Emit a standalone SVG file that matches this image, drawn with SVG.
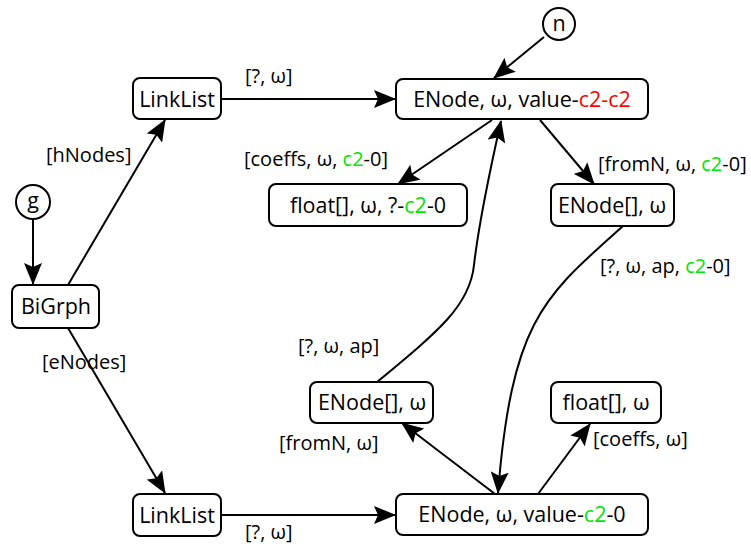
<svg xmlns="http://www.w3.org/2000/svg" width="751" height="549" viewBox="0 0 751 549">
  <style>
    .box { fill: #ffffff; stroke: #000000; stroke-width: 2; }
    .t { font-family: "Open Sans", "Noto Sans", "DejaVu Sans", sans-serif; font-size: 21.5px; fill: #000000; }
    .c { text-anchor: middle; }
    .lbl { font-family: "Open Sans", "Noto Sans", "DejaVu Sans", sans-serif; font-size: 20px; fill: #000000; }
    .edge { fill: none; stroke: #000000; stroke-width: 2; marker-end: url(#arrow); }
    .red { fill: #ff0000; }
    .grn { fill: #00e600; }
  </style>
  <defs>
    <marker id="arrow" viewBox="0 0 22 18" refX="21" refY="9" markerWidth="22" markerHeight="18" markerUnits="userSpaceOnUse" orient="auto">
      <path d="M0,0 L22,9 L0,18 L4,9 Z" fill="#000000"/>
    </marker>
  </defs>

  <g id="connectors">
    <path class="edge" d="M33,219 L33,284"/>
    <path class="edge" d="M68,285 L165,120"/>
    <path class="edge" d="M68,328 L165,493"/>
    <path class="edge" d="M221,99 L395,99"/>
    <path class="edge" d="M221,515 L395,515"/>
    <path class="edge" d="M544,37 L494,78"/>
    <path class="edge" d="M492,120 L398,184"/>
    <path class="edge" d="M540,120 L594,184"/>
    <path class="edge" d="M623,226 C545,296 512,318 498,493"/>
    <path class="edge" d="M377,382 C440,330 470,305 474,265 C478,230 490,170 501,121"/>
    <path class="edge" d="M495,494 L402,423"/>
    <path class="edge" d="M538,494 L590,424"/>
  </g>

  <g id="edge-labels" class="lbl">
    <text x="245" y="83">[?, ω]</text>
    <text x="46" y="162">[hNodes]</text>
    <text x="244" y="166">[coeffs, ω, <tspan class="grn">c2</tspan>-0]</text>
    <text x="598" y="171">[fromN, ω, <tspan class="grn">c2</tspan>-0]</text>
    <text x="600" y="273">[?, ω, ap, <tspan class="grn">c2</tspan>-0]</text>
    <text x="298" y="353">[?, ω, ap]</text>
    <text x="42" y="369">[eNodes]</text>
    <text x="279" y="450">[fromN, ω]</text>
    <text x="593" y="446">[coeffs, ω]</text>
    <text x="245" y="539">[?, ω]</text>
  </g>

  <g id="n">
    <circle class="box" cx="559" cy="24" r="16"/>
    <text class="t c" x="559" y="31">n</text>
  </g>
  <g id="g">
    <circle class="box" cx="33" cy="202" r="17"/>
    <text class="t c" x="33" y="208">g</text>
  </g>
  <g id="linklist-h">
    <rect class="box" x="133" y="78" width="88" height="41" rx="7"/>
    <text class="t c" x="177" y="107">LinkList</text>
  </g>
  <g id="enode-top">
    <rect class="box" x="396" y="79" width="252" height="40" rx="7"/>
    <text class="t c" x="522" y="107">ENode, ω, value-<tspan class="red">c2-c2</tspan></text>
  </g>
  <g id="float-top">
    <rect class="box" x="269" y="184" width="198" height="42" rx="7"/>
    <text class="t c" x="368" y="213">float[], ω, ?-<tspan class="grn">c2</tspan>-0</text>
  </g>
  <g id="enodes-right">
    <rect class="box" x="551" y="184" width="123" height="42" rx="7"/>
    <text class="t c" x="612" y="213">ENode[], ω</text>
  </g>
  <g id="bigrph">
    <rect class="box" x="12" y="285" width="87" height="43" rx="7"/>
    <text class="t c" x="56" y="314">BiGrph</text>
  </g>
  <g id="enodes-mid">
    <rect class="box" x="310" y="382" width="123" height="41" rx="7"/>
    <text class="t c" x="372" y="410">ENode[], ω</text>
  </g>
  <g id="float-bottom">
    <rect class="box" x="551" y="382" width="110" height="41" rx="7"/>
    <text class="t c" x="606" y="410">float[], ω</text>
  </g>
  <g id="linklist-e">
    <rect class="box" x="133" y="494" width="88" height="42" rx="7"/>
    <text class="t c" x="177" y="523">LinkList</text>
  </g>
  <g id="enode-bottom">
    <rect class="box" x="396" y="494" width="252" height="41" rx="7"/>
    <text class="t c" x="522" y="522">ENode, ω, value-<tspan class="grn">c2</tspan>-0</text>
  </g>
</svg>
